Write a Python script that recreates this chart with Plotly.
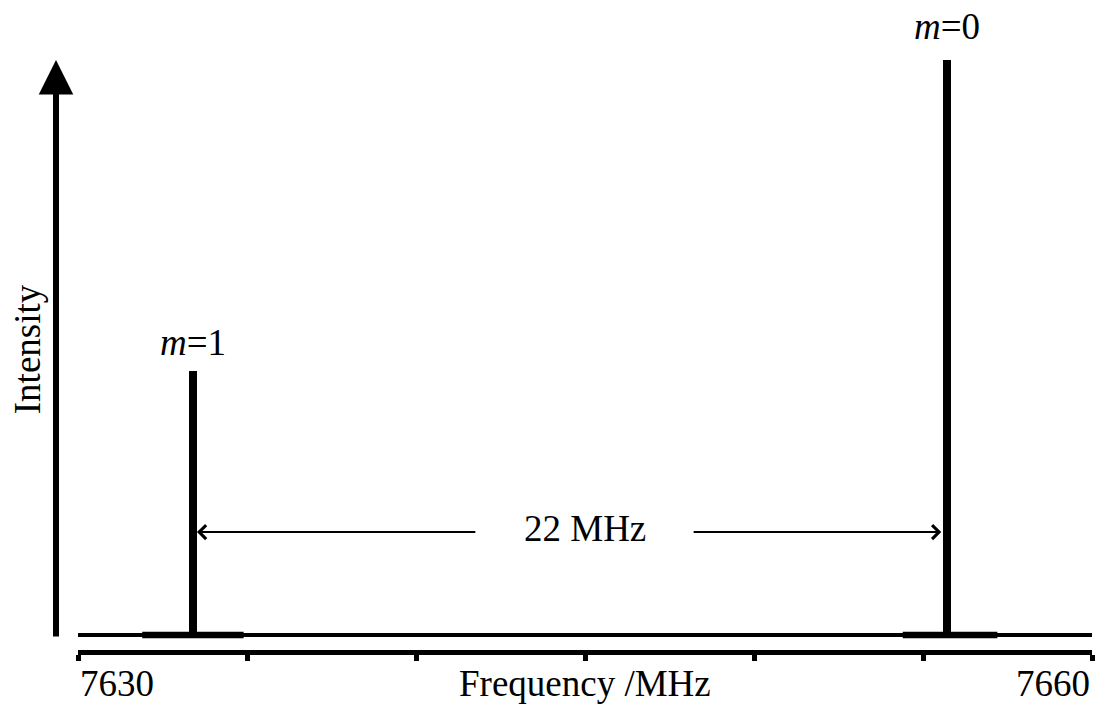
import plotly.graph_objects as go

# ---- data ----
freq_range = [7630, 7660]                    # MHz, ends of the frequency axis
tick_vals = [7630, 7635, 7640, 7645, 7650, 7655, 7660]
tick_labels = ["7630", "7660"]
peak_freqs = [7633.40, 7655.71]             # m=1, m=0
peak_intens = [0.46, 1.00]                  # relative intensity
peak_labels = ["<i>m</i>=1", "<i>m</i>=0"]
baseline_freq = [7630, 7660]
baseline_int = [0.0, 0.0]
noise_bands = [[7631.9, 7634.9], [7654.4, 7657.2]]   # noisy stretches of baseline around peaks
spacing_label = "22 MHz"
spacing_label_x = 7645.0
spacing_y = 0.179
gap_ends = [7641.80, 7648.17]               # where the 22 MHz arrow lines stop round the text

FONT = "Liberation Serif"
fig = go.Figure()

# baseline of spectrum
fig.add_trace(go.Scatter(x=baseline_freq, y=baseline_int, mode="lines",
                         line=dict(color="black", width=4), hoverinfo="skip"))
# noisy bands
for a, b in noise_bands:
    fig.add_trace(go.Scatter(x=[a, b], y=[0, 0], mode="lines",
                             line=dict(color="black", width=6.5), hoverinfo="skip"))
# peaks
fig.add_trace(go.Bar(x=peak_freqs, y=peak_intens, width=0.26,
                     marker=dict(color="black", line=dict(width=0)), hoverinfo="skip"))

ann = []
# Intensity arrow (y direction)
ann.append(dict(xref="paper", yref="y", x=-0.0217, y=1.0, ax=0, ay=578,
                axref="pixel", ayref="pixel", text="", showarrow=True,
                arrowhead=2, arrowsize=1.15, arrowwidth=6, arrowcolor="black"))
ann.append(dict(xref="paper", yref="y", x=-0.0503, y=0.497, text="Intensity",
                textangle=-90, showarrow=False, xanchor="center", yanchor="middle",
                font=dict(family=FONT, size=37, color="black")))
# peak labels
for f, h, lab, ys in zip(peak_freqs, peak_intens, peak_labels, [6, 11]):
    ann.append(dict(x=f, y=h, text=lab, showarrow=False, xanchor="center",
                    yanchor="bottom", yshift=ys,
                    font=dict(family=FONT, size=37, color="black")))
# 22 MHz arrows
ann.append(dict(x=peak_freqs[0] + 0.12, y=spacing_y, ax=gap_ends[0], ay=spacing_y,
                axref="x", ayref="y", text="", showarrow=True, arrowhead=4,
                arrowsize=1.35, arrowwidth=2, arrowcolor="black"))
ann.append(dict(x=peak_freqs[1] - 0.17, y=spacing_y, ax=gap_ends[1], ay=spacing_y,
                axref="x", ayref="y", text="", showarrow=True, arrowhead=4,
                arrowsize=1.35, arrowwidth=2, arrowcolor="black"))
ann.append(dict(x=spacing_label_x, y=spacing_y, text=spacing_label, showarrow=False,
                xanchor="center", yanchor="middle", yshift=4,
                font=dict(family=FONT, size=37, color="black")))
# tick labels and axis title
ann.append(dict(x=freq_range[0], xref="x", y=0, yref="paper", text=tick_labels[0],
                showarrow=False, xanchor="left", yanchor="top", yshift=-11,
                font=dict(family=FONT, size=37, color="black")))
ann.append(dict(x=freq_range[1], xref="x", y=0, yref="paper", text=tick_labels[1],
                showarrow=False, xanchor="right", yanchor="top", yshift=-11,
                font=dict(family=FONT, size=37, color="black")))
ann.append(dict(x=7645, xref="x", y=0, yref="paper", text="Frequency /MHz",
                showarrow=False, xanchor="center", yanchor="top", yshift=-11,
                font=dict(family=FONT, size=37, color="black")))

fig.update_layout(
    width=1096, height=704,
    margin=dict(l=78, r=4, t=20, b=54),
    paper_bgcolor="white", plot_bgcolor="white",
    showlegend=False,
    annotations=ann,
    xaxis=dict(range=freq_range, showgrid=False, zeroline=False,
               showline=True, linecolor="black", linewidth=5,
               ticks="outside", ticklen=6, tickwidth=5, tickcolor="black",
               tickvals=tick_vals, showticklabels=False),
    yaxis=dict(range=[-0.0261, 1.0696], visible=False),
    bargap=0,
)

fig.write_html("out.html")
